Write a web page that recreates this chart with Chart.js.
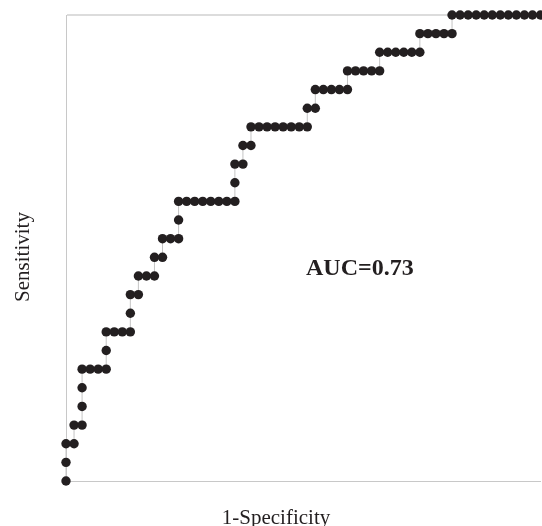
<!DOCTYPE html>
<html>
<head>
<meta charset="utf-8">
<script src="https://cdn.jsdelivr.net/npm/chart.js@4.4.1/dist/chart.umd.min.js"></script>
<style>
  html,body{margin:0;padding:0;background:#fff;}
  #wrap{width:542px;height:526px;}
</style>
</head>
<body>
<div id="wrap"><canvas id="myChart" width="542" height="526"></canvas></div>
<script>
// ROC points, in counts of false positives (out of 59) and true positives (out of 25)
const falsePos = [0,0,0,1,1,2,2,2,2,3,4,5,5,5,6,7,8,8,8,9,9,10,11,11,12,12,13,14,14,
  14,15,16,17,18,19,20,21,21,21,22,22,23,23,24,25,26,27,28,29,30,30,31,
  31,32,33,34,35,35,36,37,38,39,39,40,41,42,43,44,44,45,46,47,48,
  48,49,50,51,52,53,54,55,56,57,58,59];
const truePos = [0,1,2,2,3,3,4,5,6,6,6,6,7,8,8,8,8,9,10,10,11,11,11,12,12,13,13,13,14,
  15,15,15,15,15,15,15,15,16,17,17,18,18,19,19,19,19,19,19,19,19,20,20,
  21,21,21,21,21,22,22,22,22,22,23,23,23,23,23,23,24,24,24,24,24,
  25,25,25,25,25,25,25,25,25,25,25,25];
const totalNeg = 59;
const totalPos = 25;
const aucLabel = "AUC=0.73";
const xTitle = "1-Specificity";
const yTitle = "Sensitivity";

const points = falsePos.map((v,i)=>({x:v, y:truePos[i]}));

const textPlugin = {
  id:'texts',
  afterDraw(chart){
    const c = chart.ctx;
    c.save();
    c.fillStyle = '#231f20';
    c.textAlign = 'center';
    c.textBaseline = 'alphabetic';
    c.font = '21px "Liberation Serif", "Times New Roman", serif';
    c.fillText(xTitle, 276, 524);
    c.translate(29, 257);
    c.rotate(-Math.PI/2);
    c.fillText(yTitle, 0, 0);
    c.restore();
    c.save();
    c.fillStyle = '#231f20';
    c.font = 'bold 24px "Liberation Serif", "Times New Roman", serif';
    c.textAlign = 'left';
    c.fillText(aucLabel, 306, 275);
    c.restore();
  }
};

const ctx = document.getElementById('myChart').getContext("2d");

const config = {
  type:"line",
  data:{
    datasets:[{
      data:points,
      borderColor:'#c4c4c4',
      borderWidth:1,
      pointRadius:4.7,
      pointBackgroundColor:'#231f20',
      pointBorderColor:'#231f20',
      pointBorderWidth:0,
      tension:0,
      fill:false,
      clip:false
    }]
  },
  options:{
    responsive:false,
    animation:false,
    layout:{autoPadding:false, padding:{left:66, top:15, right:1.5, bottom:37}},
    plugins:{legend:{display:false}, tooltip:{enabled:false}},
    scales:{
      x:{
        type:'linear',
        min:0,
        max:totalNeg,
        grid:{display:false},
        border:{display:true, color:'#c8c8c8', width:1},
        ticks:{display:false}
      },
      y:{
        min:0,
        max:totalPos,
        grid:{
          drawTicks:false,
          color:(c)=> c.tick && c.tick.value===totalPos ? '#dcdcdc' : 'rgba(0,0,0,0)',
          lineWidth:2
        },
        border:{display:true, color:'#c8c8c8', width:1},
        ticks:{display:false, stepSize:5}
      }
    }
  },
  plugins:[textPlugin]
};

const mychart = new Chart(ctx, config);
</script>
</body>
</html>
